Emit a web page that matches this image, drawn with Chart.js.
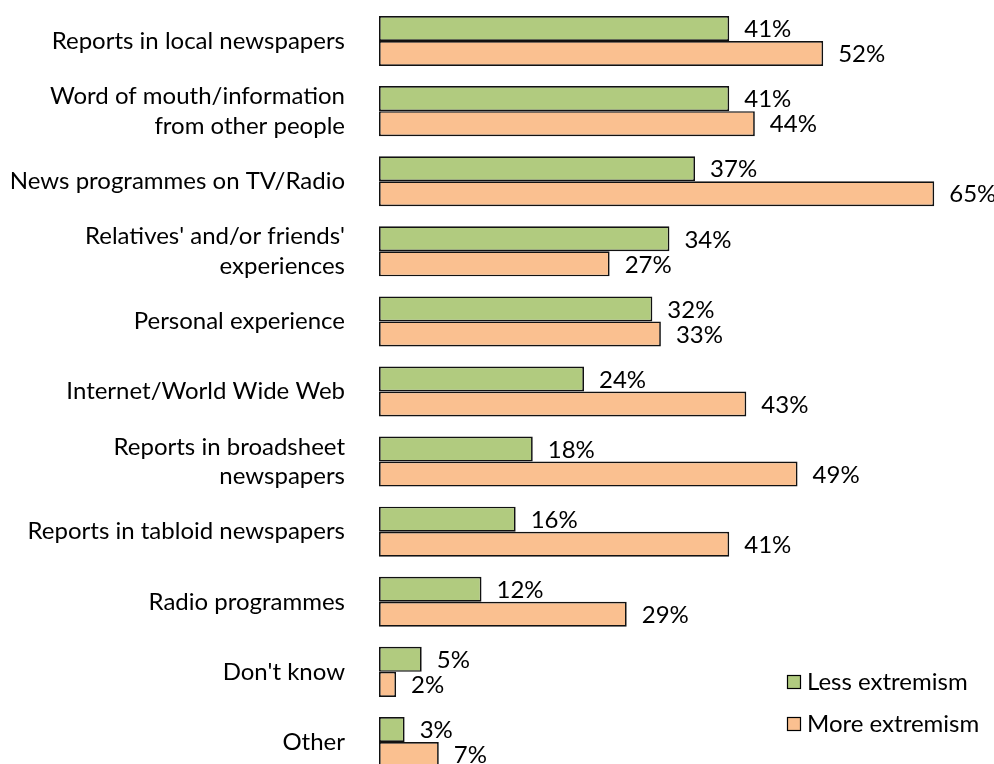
<!DOCTYPE html>
<html>
<head>
<meta charset="utf-8">
<script src="https://cdn.jsdelivr.net/npm/chart.js@4"></script>
<style>
  html, body { margin: 0; padding: 0; background: #fff; overflow: hidden; }
  #wrap { width: 994px; height: 777px; }
</style>
</head>
<body>
<div id="wrap"><canvas id="bar-chart"></canvas></div>
<script>
const categories = [
    'Reports in local newspapers',
    ['Word of mouth/information', 'from other people'],
    'News programmes on TV/Radio',
    ["Relatives' and/or friends'", 'experiences'],
    'Personal experience',
    'Internet/World Wide Web',
    ['Reports in broadsheet', 'newspapers'],
    'Reports in tabloid newspapers',
    'Radio programmes',
    "Don't know",
    'Other',
];
const lessExtremism = [41, 41, 37, 34, 32, 24, 18, 16, 12, 5, 3];
const moreExtremism = [52, 44, 65, 27, 33, 43, 49, 41, 29, 2, 7];

const FONT = 'Lato, "Open Sans", sans-serif';
const SIZE = 24;

// value labels next to the end of each bar
const valueLabels = {
    id: 'valueLabels',
    afterDatasetsDraw(chart) {
        const ctx = chart.ctx;
        ctx.save();
        ctx.font = SIZE + 'px ' + FONT;
        ctx.fillStyle = '#000';
        ctx.textBaseline = 'middle';
        ctx.textAlign = 'left';
        chart.data.datasets.forEach((ds, i) => {
            chart.getDatasetMeta(i).data.forEach((bar, j) => {
                ctx.fillText(ds.data[j] + '%', bar.x + 15, bar.y + 1);
            });
        });
        ctx.restore();
    }
};

// legend drawn in the lower right corner
const cornerLegend = {
    id: 'cornerLegend',
    afterDraw(chart) {
        const ctx = chart.ctx;
        ctx.save();
        ctx.font = SIZE + 'px ' + FONT;
        ctx.textBaseline = 'middle';
        chart.data.datasets.forEach((ds, i) => {
            const y = 682 + i * 42;
            ctx.fillStyle = ds.backgroundColor;
            ctx.fillRect(787, y - 7, 14, 14);
            ctx.strokeStyle = '#000';
            ctx.lineWidth = 1.2;
            ctx.strokeRect(787.5, y - 6.5, 13, 13);
            ctx.fillStyle = '#000';
            ctx.fillText(ds.label, 807, y);
        });
        ctx.restore();
    }
};

const ctx = document.getElementById('bar-chart').getContext('2d');
new Chart(ctx, {
    type: 'bar',
    data: {
        labels: categories,
        datasets: [
            {
                label: 'Less extremism',
                data: lessExtremism,
                backgroundColor: '#b1cb7f',
                borderColor: '#111',
                borderWidth: 1.7,
                borderSkipped: false,
            },
            {
                label: 'More extremism',
                data: moreExtremism,
                backgroundColor: '#fac090',
                borderColor: '#111',
                borderWidth: 1.7,
                borderSkipped: false,
            },
        ],
    },
    options: {
        indexAxis: 'y',
        responsive: true,
        maintainAspectRatio: false,
        animation: false,
        categoryPercentage: 0.714,
        barPercentage: 1,
        layout: { padding: { top: 6, right: 0, bottom: 0, left: 0 } },
        plugins: {
            legend: { display: false },
            tooltip: { enabled: false },
        },
        scales: {
            x: {
                display: false,
                min: 0,
                max: 72,
            },
            y: {
                afterFit(scale) {
                    scale.width = 379;
                    scale.paddingTop = 0;
                    scale.paddingBottom = 0;
                },
                grid: { display: false },
                border: { display: false },
                ticks: {
                    color: '#000',
                    padding: 26,
                    font: { family: FONT, size: SIZE, lineHeight: 1.22 },
                },
            },
        },
    },
    plugins: [valueLabels, cornerLegend],
});
</script>
</body>
</html>
